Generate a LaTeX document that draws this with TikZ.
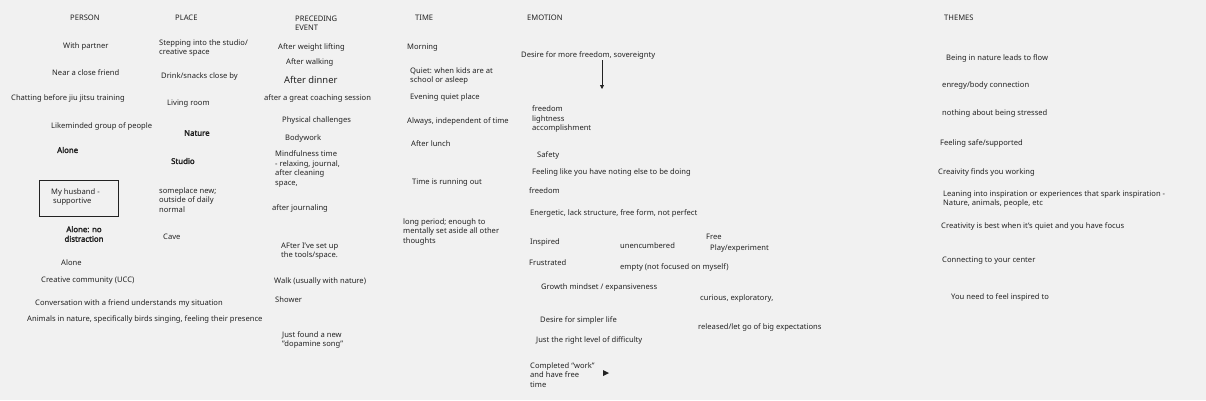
\documentclass[tikz,border=0pt]{standalone}
\usepackage{fontspec}
\setmainfont{Noto Sans}[AutoFakeBold=2.5]
\usetikzlibrary{arrows.meta}
\definecolor{boardbg}{HTML}{F1F1F1}
\definecolor{ink}{HTML}{222222}
\begin{document}
\begin{tikzpicture}[x=1pt,y=-1pt,
    every node/.style={text=ink,font=\fontsize{7.6}{9.4}\selectfont,inner sep=0pt,anchor=west,align=left},
    bold/.style={font=\fontsize{7.8}{9.6}\selectfont\bfseries},
    big/.style={font=\fontsize{9.4}{11}\selectfont}]
  \fill[boardbg] (0,0) rectangle (1206,400);
  \useasboundingbox (0,0) rectangle (1206,400);
  % headers
  \node (hperson) at (70,18) {PERSON};
  \node (hplace) at (175,18) {PLACE};
  \node (hevent) at (295,23) {PRECEDING\\EVENT};
  \node (htime) at (415,18) {TIME};
  \node (hemotion) at (527,18) {EMOTION};
  \node (hthemes) at (944,18) {THEMES};
  % person
  \node (p1) at (63,47) {With partner};
  \node (p2) at (52,73) {Near a close friend};
  \node (p3) at (11,98) {Chatting before jiu jitsu training};
  \node (p4) at (51,126) {Likeminded group of people};
  \node[bold] (p5) at (57,150) {Alone};
  \node (p6) at (51,197) {My husband -\\\ supportive};
  \draw[ink,semithick] (39,180) rectangle (118,216);
  \node[bold,align=center,anchor=center] (p7) at (84,234) {Alone: no\\distraction};
  \node (p8) at (61,263) {Alone};
  \node (p9) at (41,281) {Creative community (UCC)};
  \node (p10) at (35,303) {Conversation with a friend understands my situation};
  \node (p11) at (27,319) {Animals in nature, specifically birds singing, feeling their presence};
  % place
  \node (l1) at (159,48) {Stepping into the studio/\\creative space};
  \node (l2) at (161,77) {Drink/snacks close by};
  \node (l3) at (167,104) {Living room};
  \node[bold] (l4) at (184,133) {Nature};
  \node[bold] (l5) at (171,161) {Studio};
  \node (l6) at (159,200) {someplace new;\\outside of daily\\normal};
  \node (l7) at (163,237) {Cave};
  % preceding event
  \node (e1) at (278,48) {After weight lifting};
  \node (e2) at (286,62) {After walking};
  \node[big] (e3) at (284,80) {After dinner};
  \node (e4) at (264,98) {after a great coaching session};
  \node (e5) at (282,121) {Physical challenges};
  \node (e6) at (285,139) {Bodywork};
  \node (e7) at (275,169) {Mindfulness time\\- relaxing, journal,\\after cleaning\\space,};
  \node (e8) at (272,208) {after journaling};
  \node (e9) at (281,251) {AFter I've set up\\the tools/space.};
  \node (e10) at (274,282) {Walk (usually with nature)};
  \node (e11) at (275,300) {Shower};
  \node (e12) at (282,340) {Just found a new\\"dopamine song"};
  % time
  \node (t1) at (407,48) {Morning};
  \node (t2) at (410,76) {Quiet: when kids are at\\school or asleep};
  \node (t3) at (410,98) {Evening quiet place};
  \node (t4) at (407,121) {Always, independent of time};
  \node (t5) at (411,144) {After lunch};
  \node (t6) at (412,183) {Time is running out};
  \node (t7) at (403,232) {long period; enough to\\mentally set aside all other\\thoughts};
  % emotion
  \node (m1) at (521,56) {Desire for more freedom, sovereignty};
  \node (m2) at (532,119) {freedom\\lightness\\accomplishment};
  \node (m3) at (537,155) {Safety};
  \node (m4) at (532,173) {Feeling like you have noting else to be doing};
  \node (m5) at (529,191) {freedom};
  \node (m6) at (530,213) {Energetic, lack structure, free form, not perfect};
  \node (m7) at (530,243) {Inspired};
  \node (m8) at (529,263) {Frustrated};
  \node (m9) at (541,288) {Growth mindset / expansiveness};
  \node (m10) at (540,320) {Desire for simpler life};
  \node (m11) at (536,340) {Just the right level of difficulty};
  \node (m12) at (530,375) {Completed ``work''\\and have free\\time};
  \node (m13) at (620,246) {unencumbered};
  \node (m14) at (620,267) {empty (not focused on myself)};
  \node (m15) at (706,237) {Free};
  \node (m16) at (710,249) {Play/experiment};
  \node (m17) at (700,299) {curious, exploratory,};
  \node (m18) at (698,327) {released/let go of big expectations};
  \coordinate (arrowtop) at (602,60);
  \coordinate (arrowend) at (602,89);
  \draw[ink,thick,-{Triangle[length=4pt,width=4pt]}] (arrowtop) -- (arrowend);
  \fill[ink] (603,370) -- (609,373) -- (603,376) -- cycle;
  % themes
  \node (s1) at (946,58) {Being in nature leads to flow};
  \node (s2) at (942,86) {enregy/body connection};
  \node (s3) at (942,114) {nothing about being stressed};
  \node (s4) at (940,143) {Feeling safe/supported};
  \node (s5) at (938,172) {Creaivity finds you working};
  \node (s6) at (943,199) {Leaning into inspiration or experiences that spark inspiration -\\Nature, animals, people, etc};
  \node (s7) at (941,226) {Creativity is best when it's quiet and you have focus};
  \node (s8) at (942,261) {Connecting to your center};
  \node (s9) at (951,297) {You need to feel inspired to};
\end{tikzpicture}
\end{document}
